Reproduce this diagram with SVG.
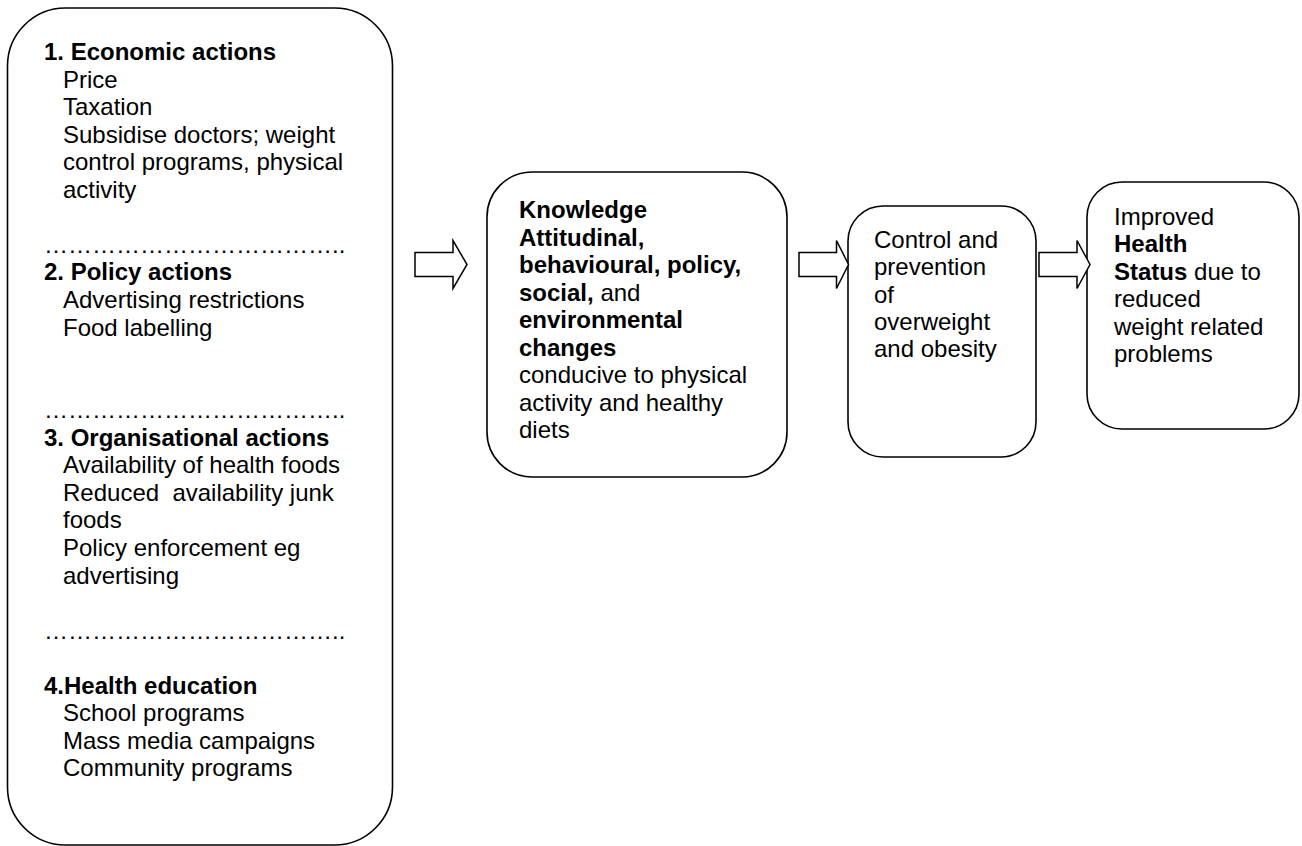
<svg xmlns="http://www.w3.org/2000/svg" width="1302" height="846" viewBox="0 0 1302 846">
<style>
.box{fill:#fff;stroke:#000;stroke-width:1.6}
.arr{fill:#fff;stroke:#000;stroke-width:1.5;stroke-linejoin:miter}
text{font-family:"Liberation Sans",Arial,sans-serif;font-size:24px;fill:#000}
.b{font-weight:bold}
</style>
<rect width="1302" height="846" fill="#fff"/>
<g id="actions">
<rect class="box" x="7.5" y="8" width="385" height="837" rx="58" ry="58"/>
<text class="b" x="44" y="60">1. Economic actions</text>
<text x="63" y="87.5">Price</text>
<text x="63" y="115">Taxation</text>
<text x="63" y="142.6">Subsidise doctors; weight</text>
<text x="63" y="170.2">control programs, physical</text>
<text x="63" y="197.7">activity</text>
<text x="44" y="252.8">&#8230;&#8230;&#8230;&#8230;&#8230;&#8230;&#8230;&#8230;&#8230;&#8230;&#8230;&#8230;..</text>
<text class="b" x="44" y="280.4">2. Policy actions</text>
<text x="63" y="308">Advertising restrictions</text>
<text x="63" y="335.5">Food labelling</text>
<text x="44" y="418.1">&#8230;&#8230;&#8230;&#8230;&#8230;&#8230;&#8230;&#8230;&#8230;&#8230;&#8230;&#8230;..</text>
<text class="b" x="44" y="445.7">3. Organisational actions</text>
<text x="63" y="473.2">Availability of health foods</text>
<text x="63" y="500.8" xml:space="preserve">Reduced  availability junk</text>
<text x="63" y="528.4">foods</text>
<text x="63" y="555.9">Policy enforcement eg</text>
<text x="63" y="583.5">advertising</text>
<text x="44" y="638.6">&#8230;&#8230;&#8230;&#8230;&#8230;&#8230;&#8230;&#8230;&#8230;&#8230;&#8230;&#8230;..</text>
<text class="b" x="44" y="693.7">4.Health education</text>
<text x="63" y="721.2">School programs</text>
<text x="63" y="748.8">Mass media campaigns</text>
<text x="63" y="776.3">Community programs</text>
</g>
<g id="knowledge">
<rect class="box" x="487" y="172" width="300" height="305" rx="45" ry="45"/>
<text class="b" x="519" y="218">Knowledge</text>
<text class="b" x="519" y="245.5">Attitudinal,</text>
<text class="b" x="519" y="273">behavioural, policy,</text>
<text x="519" y="300.5"><tspan class="b">social,</tspan> and</text>
<text class="b" x="519" y="328">environmental</text>
<text class="b" x="519" y="355.5">changes</text>
<text x="519" y="383">conducive to physical</text>
<text x="519" y="410.5">activity and healthy</text>
<text x="519" y="438">diets</text>
</g>
<g id="control">
<rect class="box" x="848" y="206" width="188" height="251" rx="35" ry="35"/>
<text x="874" y="248">Control and</text>
<text x="874" y="275.4">prevention</text>
<text x="874" y="302.7">of</text>
<text x="874" y="330">overweight</text>
<text x="874" y="357.4">and obesity</text>
</g>
<g id="health">
<rect class="box" x="1087" y="182" width="212" height="247" rx="35" ry="35"/>
<text x="1114" y="225">Improved</text>
<text class="b" x="1114" y="252.4">Health</text>
<text x="1114" y="279.8"><tspan class="b">Status</tspan> due to</text>
<text x="1114" y="307.2">reduced</text>
<text x="1114" y="334.6">weight related</text>
<text x="1114" y="362">problems</text>
</g>
<g id="connectors">
<polygon class="arr" points="415,252.5 453,252.5 453,240.5 467,264.5 453,288.5 453,276.5 415,276.5"/>
<polygon class="arr" points="799,252.5 836.5,252.5 836.5,240.5 848.5,264.5 836.5,288.5 836.5,276.5 799,276.5"/>
<polygon class="arr" points="1039,252.5 1077,252.5 1077,240.5 1090,264.5 1077,288.5 1077,276.5 1039,276.5"/>
</g>
</svg>
